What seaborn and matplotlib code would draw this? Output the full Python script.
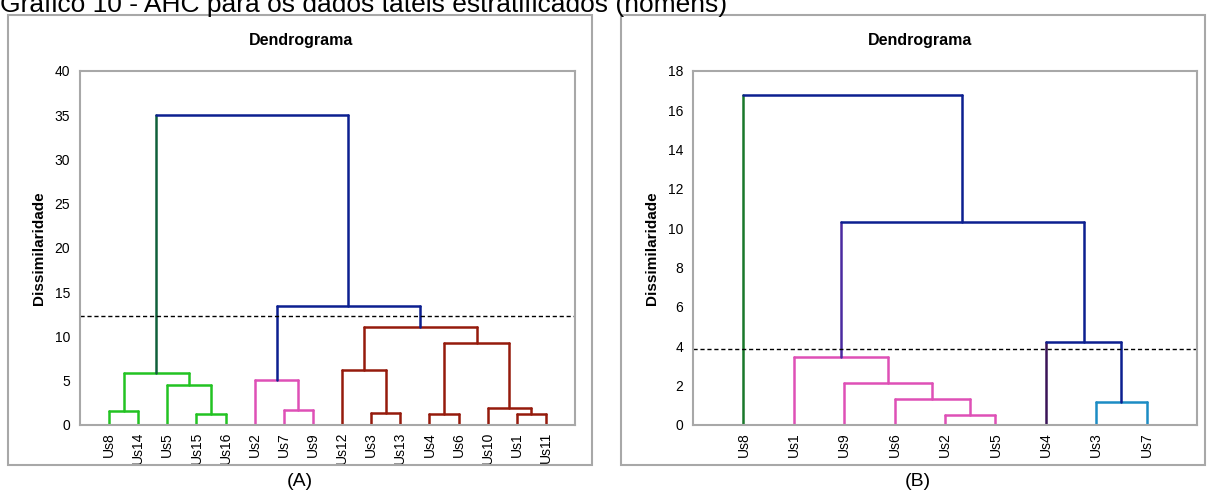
import seaborn as sns
import pandas as pd
import matplotlib.pyplot as plt
from matplotlib.patches import Rectangle

# Panel A: leaves in dendrogram order, merges as (left, right, height);
# an int child refers to an earlier merge
leaves_a = ["Us8", "Us14", "Us5", "Us15", "Us16", "Us2", "Us7", "Us9",
            "Us12", "Us3", "Us13", "Us4", "Us6", "Us10", "Us1", "Us11"]
merges_a = [("Us8", "Us14", 1.6), ("Us15", "Us16", 1.2), ("Us5", 1, 4.5),
            (0, 2, 5.9), ("Us7", "Us9", 1.7), ("Us2", 4, 5.1),
            ("Us3", "Us13", 1.3), ("Us12", 6, 6.2), ("Us4", "Us6", 1.2),
            ("Us1", "Us11", 1.2), ("Us10", 9, 1.9), (8, 10, 9.3),
            (7, 11, 11.1), (5, 12, 13.4), (3, 13, 35.0)]
cut_a = 12.3
yticks_a = list(range(0, 41, 5))

# Panel B
leaves_b = ["Us8", "Us1", "Us9", "Us6", "Us2", "Us5", "Us4", "Us3", "Us7"]
merges_b = [("Us2", "Us5", 0.5), ("Us6", 0, 1.3), ("Us9", 1, 2.15),
            ("Us1", 2, 3.45), ("Us3", "Us7", 1.15), ("Us4", 4, 4.2),
            (3, 5, 10.3), ("Us8", 6, 16.8)]
cut_b = 3.85
yticks_b = list(range(0, 19, 2))

GREEN = "#22c322"
PINK = "#de50b6"
RED = "#951a0c"
NAVY = "#0c1f90"
LBLUE = "#1c8cc4"
# (horizontal, left leg, right leg)
colors_a = [GREEN] * 4 + [PINK] * 2 + [RED] * 7 + [NAVY] + [(NAVY, "#10603a", NAVY)]
colors_b = [PINK] * 4 + [LBLUE] + [(NAVY, "#3a1458", NAVY), (NAVY, "#4a2aa0", NAVY),
                                   (NAVY, "#19782a", NAVY)]


def segments(leaves, merges, colors):
    pos = {n: i + 1 for i, n in enumerate(leaves)}
    node = []
    rows = []
    for i, (a, b, h) in enumerate(merges):
        xa, ha = (pos[a], 0.0) if isinstance(a, str) else node[a]
        xb, hb = (pos[b], 0.0) if isinstance(b, str) else node[b]
        c = colors[i]
        ch, cl, cr = (c, c, c) if isinstance(c, str) else c
        for k, (xs, ys, col) in enumerate([([xa, xa], [ha, h], cl),
                                            ([xa, xb], [h, h], ch),
                                            ([xb, xb], [hb, h], cr)]):
            for x, y in zip(xs, ys):
                rows.append({"seg": f"{i}_{k}", "x": x, "y": y, "color": col})
        node.append(((xa + xb) / 2, h))
    return pd.DataFrame(rows)


sns.set_style("white")
plt.rcParams["font.family"] = ["Liberation Sans", "DejaVu Sans"]
plt.rcParams["text.color"] = "black"
plt.rcParams["axes.labelcolor"] = "black"
plt.rcParams["xtick.labelcolor"] = "black"
plt.rcParams["ytick.labelcolor"] = "black"

fig = plt.figure(figsize=(12.07, 4.93), dpi=100)

fig.text(0.0, 1 - 12 / 493, "Gráfico 10 - AHC para os dados táteis estratificados (homens)",
         fontsize=19, va="baseline", ha="left")

for x0, x1 in [(8, 592), (621, 1205)]:
    fig.patches.append(Rectangle((x0 / 1207, 1 - 465 / 493), (x1 - x0) / 1207, 450 / 493,
                                 transform=fig.transFigure, fill=False,
                                 edgecolor="#a8a8a8", linewidth=1.5))

panels = [
    (leaves_a, merges_a, colors_a, cut_a, yticks_a, [80, 575], 301, 300, "(A)"),
    (leaves_b, merges_b, colors_b, cut_b, yticks_b, [693, 1197], 920, 918, "(B)"),
]

for leaves, merges, colors, cut, yticks, (px0, px1), tx, cx, cap in panels:
    ax = fig.add_axes([px0 / 1207, 1 - 425 / 493, (px1 - px0) / 1207, 354 / 493])
    df = segments(leaves, merges, colors)
    pal = dict(zip(df["seg"], df["color"]))
    sns.lineplot(data=df, x="x", y="y", units="seg", hue="seg", palette=pal,
                 estimator=None, sort=False, legend=False, linewidth=1.8, ax=ax)
    ax.axhline(cut, color="black", linestyle=(0, (3, 2)), linewidth=1)
    ax.set_xlim(0, len(leaves) + 1)
    ax.set_ylim(yticks[0], yticks[-1])
    ax.set_yticks(yticks)
    ax.set_xticks(range(1, len(leaves) + 1))
    ax.set_xticklabels(leaves, rotation=90, fontsize=10)
    ax.tick_params(axis="x", length=0, pad=5)
    ax.tick_params(axis="y", length=4, width=1, color="#a8a8a8", labelsize=10,
                   direction="out", pad=3)
    for s in ax.spines.values():
        s.set_color("#a8a8a8")
        s.set_linewidth(1.5)
    ax.set_xlabel("")
    ax.set_ylabel("Dissimilaridade", fontsize=11, fontweight="bold", labelpad=6)
    fig.text(tx / 1207, 1 - 40 / 493, "Dendrograma", fontsize=11.5, fontweight="bold",
             ha="center", va="center")
    fig.text(cx / 1207, 1 - 481 / 493, cap, fontsize=14, ha="center", va="center")

plt.savefig("out.png", dpi=100)
